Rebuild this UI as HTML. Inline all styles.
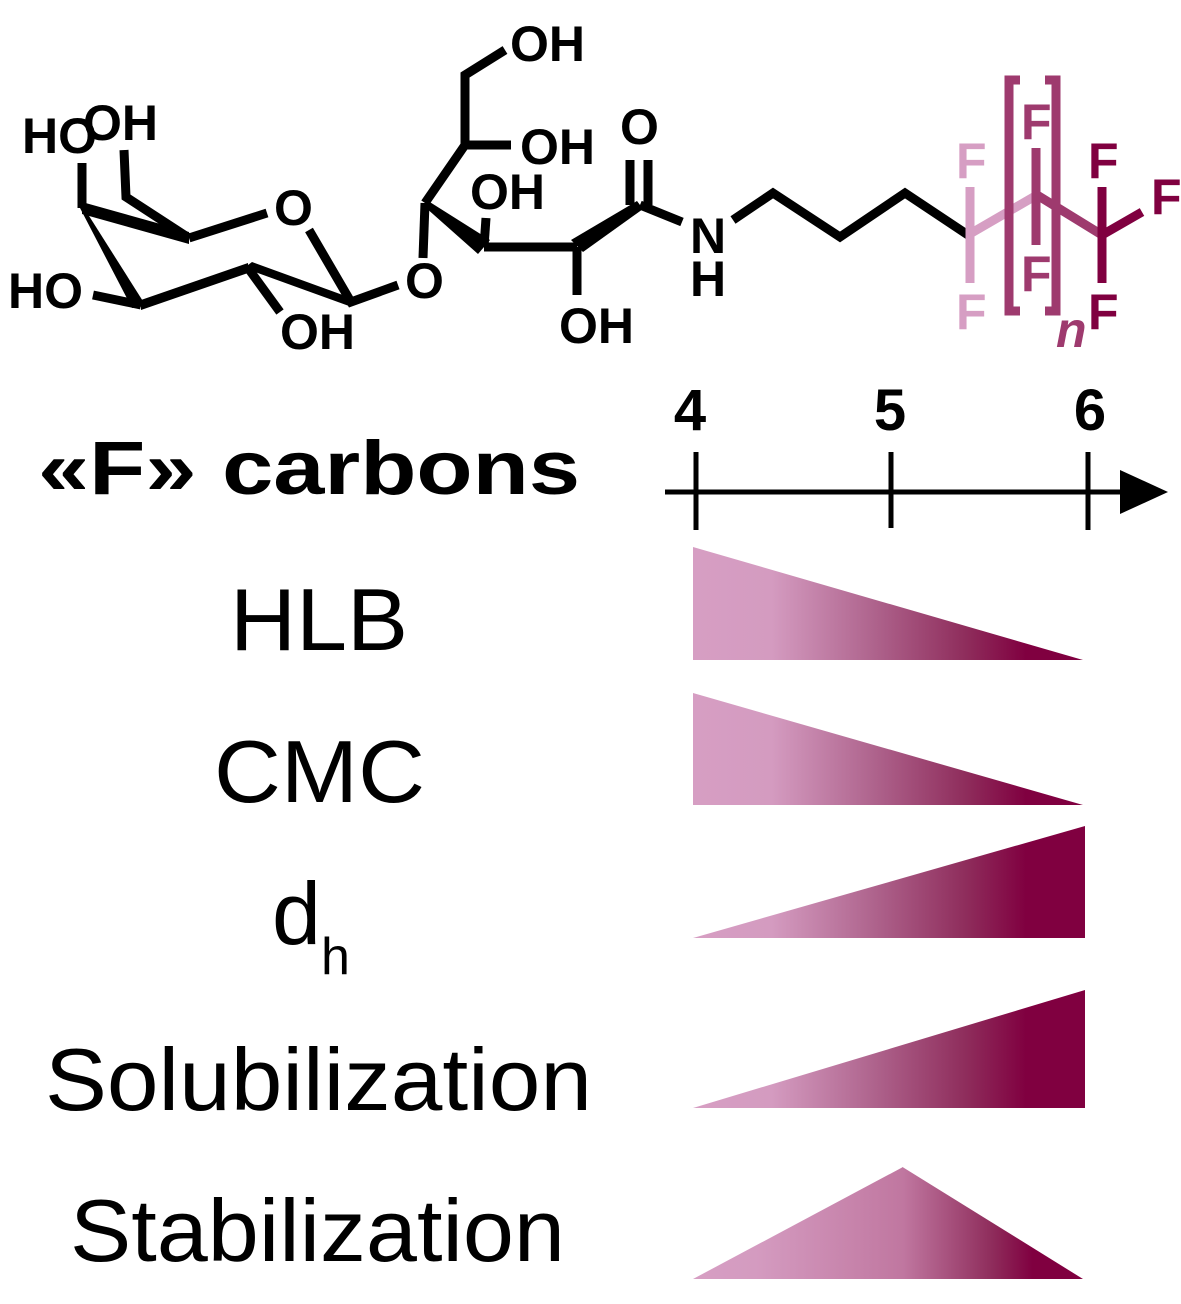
<!DOCTYPE html>
<html><head><meta charset="utf-8"><style>html,body{margin:0;padding:0;background:#fff}svg{display:block}</style></head>
<body>
<svg width="1181" height="1304" viewBox="0 0 1181 1304" xmlns="http://www.w3.org/2000/svg" font-family="Liberation Sans, Arial, sans-serif">
<defs>
<linearGradient id="g1" gradientUnits="userSpaceOnUse" x1="693" y1="0" x2="1085" y2="0">
<stop offset="0" stop-color="#d69ec3"/><stop offset="0.2" stop-color="#d49bc0"/><stop offset="0.45" stop-color="#b0668f"/><stop offset="0.7" stop-color="#8e2c5b"/><stop offset="0.85" stop-color="#800040"/><stop offset="1" stop-color="#800040"/>
</linearGradient>
<linearGradient id="gL" gradientUnits="userSpaceOnUse" x1="693" y1="0" x2="903" y2="0">
<stop offset="0" stop-color="#d69ec3"/><stop offset="0.3" stop-color="#d49bc0"/><stop offset="1" stop-color="#c077a0"/>
</linearGradient>
<linearGradient id="gR" gradientUnits="userSpaceOnUse" x1="903" y1="0" x2="1083" y2="0">
<stop offset="0" stop-color="#c077a0"/><stop offset="0.5" stop-color="#8e2c5b"/><stop offset="0.72" stop-color="#800040"/><stop offset="1" stop-color="#800040"/>
</linearGradient>
</defs>

<g stroke="#000" stroke-width="9" fill="none" stroke-linejoin="miter">
<path d="M82,163 L82,208"/>
<path d="M124,150 L126,197 L189,238"/>
<path d="M189,238 L267,213"/>
<path d="M309,230 L351,302 L398,285"/>
<path d="M93,295 L141,305"/>
<path d="M248,268 L280,312"/>
<path d="M423,258 L425,203"/>
<path d="M425,203 L465,145 L465,75 L505,50"/>
<path d="M465,145 L511,145"/>
<path d="M484,247 L486,218"/>
<path d="M484,247 L577,247"/>
<path d="M577,247 L577,295"/>
<path d="M630,205 L630,160 M648,205 L648,160"/>
<path d="M640,205 L682,222"/>
<path d="M733,220 L773,193 L840,237 L905,193 L968,235"/>
</g>
<g fill="#000">
<polygon points="82,202 82,214 189,244 189,232"/>
<polygon points="80,208 84,208 146,306 132,308"/>
<polygon points="141,310 141,300 248,263 248,273"/>
<polygon points="244,268 252,262 351,298 349,306"/>
<polygon points="425,199 425,207 478,254 490,240"/>
<polygon points="571,240 583,252 643,209 637,201"/>
</g>

<g font-weight="bold" font-size="50" fill="#000">
<text x="22" y="153">HO</text>
<text x="83" y="140">OH</text>
<text x="274" y="225">O</text>
<text x="8" y="308">HO</text>
<text x="280" y="349">OH</text>
<text x="405" y="298">O</text>
<text x="470" y="209">OH</text>
<text x="520" y="164">OH</text>
<text x="510" y="61">OH</text>
<text x="620" y="144">O</text>
<text x="559" y="343">OH</text>
<text x="690" y="253">N</text>
<text x="690" y="296">H</text>
</g>

<g stroke-width="9" fill="none">
<path d="M968,235 L1037,195" stroke="#d69ec3"/>
<path d="M970,187 L970,283" stroke="#d69ec3"/>
<path d="M1037,195 L1102,235" stroke="#9e3a6e"/>
<path d="M1036,148 L1036,245" stroke="#9e3a6e"/>
<path d="M1020,80 L1009,80 L1009,311 L1020,311 M1045,80 L1056,80 L1056,311 L1045,311" stroke="#9e3a6e"/>
<path d="M1102,187 L1102,283 M1102,235 L1142,212" stroke="#800040"/>
</g>
<g font-weight="bold" font-size="50">
<text x="956" y="178" fill="#d69ec3">F</text>
<text x="956" y="329" fill="#d69ec3">F</text>
<text x="1021" y="139" fill="#9e3a6e">F</text>
<text x="1021" y="291" fill="#9e3a6e">F</text>
<text x="1056" y="347" fill="#9e3a6e" font-style="italic">n</text>
<text x="1088" y="178" fill="#800040">F</text>
<text x="1151" y="214" fill="#800040">F</text>
<text x="1088" y="329" fill="#800040">F</text>
</g>

<g font-weight="bold" font-size="58" text-anchor="middle">
<text x="690" y="430">4</text>
<text x="890" y="430">5</text>
<text x="1090" y="430">6</text>
</g>
<g stroke="#000" stroke-width="5">
<path d="M665,492 L1125,492"/>
<path d="M696,452 L696,530 M891,452 L891,528 M1088,452 L1088,530"/>
</g>
<polygon points="1120,470 1168,492 1120,514" fill="#000"/>
<text x="38" y="494" font-weight="bold" font-size="76" textLength="542" lengthAdjust="spacingAndGlyphs">«F» carbons</text>

<g font-size="88">
<text x="230" y="650" textLength="178" lengthAdjust="spacingAndGlyphs">HLB</text>
<text x="214" y="802" textLength="211" lengthAdjust="spacingAndGlyphs">CMC</text>
<text x="45" y="1110" textLength="547" lengthAdjust="spacingAndGlyphs">Solubilization</text>
<text x="70" y="1261" textLength="495" lengthAdjust="spacingAndGlyphs">Stabilization</text>
</g>
<text x="272" y="944" font-size="88">d<tspan font-size="52" dy="30">h</tspan></text>

<polygon points="693,547 693,660 1083,660" fill="url(#g1)"/>
<polygon points="693,693 693,805 1083,805" fill="url(#g1)"/>
<polygon points="693,938 1085,826 1085,938" fill="url(#g1)"/>
<polygon points="693,1108 1085,990 1085,1108" fill="url(#g1)"/>
<polygon points="693,1279 903,1167 903,1279" fill="url(#gL)"/>
<polygon points="902.5,1167 1083,1279 902.5,1279" fill="url(#gR)"/>
</svg>
</body></html>
